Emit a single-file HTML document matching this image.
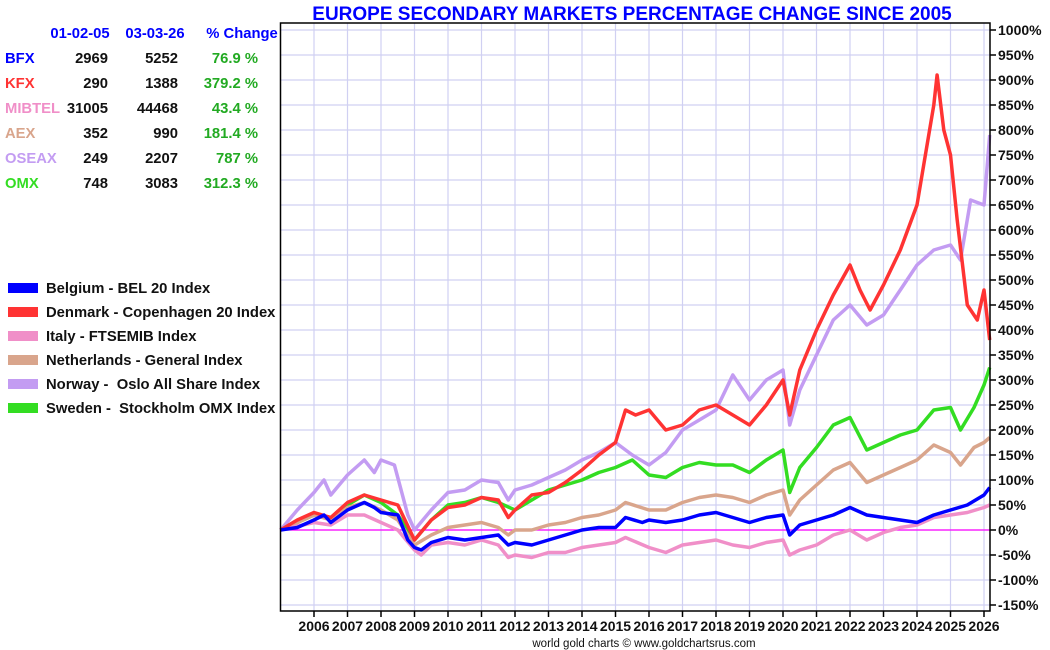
<!DOCTYPE html>
<html><head><meta charset="utf-8">
<style>
body{margin:0;background:#fff;width:1050px;height:650px;overflow:hidden;font-family:"Liberation Sans",sans-serif}
svg{position:absolute;left:0;top:0}
</style></head><body>
<svg id="chart" width="1050" height="650"></svg>
<script>
const startYear=2005, yearTicks=[2006,2007,2008,2009,2010,2011,2012,2013,2014,2015,2016,2017,2018,2019,2020,2021,2022,2023,2024,2025,2026];
const yTicks=[-150,-100,-50,0,50,100,150,200,250,300,350,400,450,500,550,600,650,700,750,800,850,900,950,1000];
const seriesNames=["Norway - Oslo All Share Index","Sweden - Stockholm OMX Index","Netherlands - General Index","Italy - FTSEMIB Index","Denmark - Copenhagen 20 Index","Belgium - BEL 20 Index"];
const norwayT=[2005,2005.5,2006,2006.3,2006.5,2007,2007.5,2007.8,2008,2008.4,2008.8,2009,2009.5,2010,2010.5,2011,2011.5,2011.8,2012,2012.5,2013,2013.5,2014,2014.5,2015,2015.5,2016,2016.5,2017,2017.5,2018,2018.5,2019,2019.5,2020,2020.2,2020.5,2021,2021.5,2022,2022.5,2023,2023.5,2024,2024.5,2025,2025.3,2025.6,2026,2026.17];
const norwayV=[0,40,75,100,70,110,140,115,140,130,30,0,40,75,80,100,95,60,80,90,105,120,140,155,175,150,130,155,200,220,240,310,260,300,320,210,280,350,420,450,410,430,480,530,560,570,540,660,650,790];
const swedenT=[2005,2005.5,2006,2006.5,2007,2007.5,2008,2008.5,2009,2009.5,2010,2010.5,2011,2011.5,2012,2012.5,2013,2013.5,2014,2014.5,2015,2015.5,2016,2016.5,2017,2017.5,2018,2018.5,2019,2019.5,2020,2020.2,2020.5,2021,2021.5,2022,2022.5,2023,2023.5,2024,2024.5,2025,2025.3,2025.7,2026,2026.17];
const swedenV=[0,15,30,25,50,70,55,30,-20,20,50,55,65,55,40,60,80,90,100,115,125,140,110,105,125,135,130,130,115,140,160,75,125,165,210,225,160,175,190,200,240,245,200,245,290,325];
const nethT=[2005,2006,2006.5,2007,2007.5,2008,2008.5,2009,2009.5,2010,2010.5,2011,2011.5,2011.8,2012,2012.5,2013,2013.5,2014,2014.5,2015,2015.3,2016,2016.5,2017,2017.5,2018,2018.5,2019,2019.5,2020,2020.2,2020.5,2021,2021.5,2022,2022.5,2023,2023.5,2024,2024.5,2025,2025.3,2025.7,2026,2026.17];
const nethV=[0,30,20,45,55,40,20,-30,-10,5,10,15,5,-10,0,0,10,15,25,30,40,55,40,40,55,65,70,65,55,70,80,30,60,90,120,135,95,110,125,140,170,155,130,165,175,185];
const italyT=[2005,2006,2006.5,2007,2007.5,2008,2008.5,2009,2009.2,2009.5,2010,2010.5,2011,2011.5,2011.8,2012,2012.5,2013,2013.5,2014,2014.5,2015,2015.3,2016,2016.5,2017,2017.5,2018,2018.5,2019,2019.5,2020,2020.2,2020.5,2021,2021.5,2022,2022.5,2023,2023.5,2024,2024.5,2025,2025.5,2026,2026.17];
const italyV=[0,15,10,30,30,15,0,-40,-50,-30,-25,-30,-20,-30,-55,-50,-55,-45,-45,-35,-30,-25,-15,-35,-45,-30,-25,-20,-30,-35,-25,-20,-50,-40,-30,-10,0,-20,-5,5,10,25,30,35,45,50];
const denmarkT=[2005,2005.5,2006,2006.5,2007,2007.5,2008,2008.5,2009,2009.5,2010,2010.5,2011,2011.5,2011.8,2012,2012.5,2013,2013.5,2014,2014.5,2015,2015.3,2015.6,2016,2016.5,2017,2017.5,2018,2018.5,2019,2019.5,2020,2020.2,2020.5,2021,2021.5,2022,2022.3,2022.6,2023,2023.5,2024,2024.2,2024.5,2024.6,2024.8,2025,2025.2,2025.5,2025.8,2026,2026.17];
const denmarkV=[0,20,35,25,55,70,60,50,-20,20,45,50,65,60,25,40,70,75,95,120,150,175,240,230,240,200,210,240,250,230,210,250,300,230,320,400,470,530,480,440,490,560,650,730,850,910,800,750,620,450,420,480,380];
const belgiumT=[2005,2005.5,2006,2006.3,2006.5,2007,2007.5,2007.8,2008,2008.5,2008.8,2009,2009.2,2009.5,2010,2010.5,2011,2011.5,2011.8,2012,2012.5,2013,2013.5,2014,2014.5,2015,2015.3,2015.8,2016,2016.5,2017,2017.5,2018,2018.5,2019,2019.5,2020,2020.2,2020.5,2021,2021.5,2022,2022.5,2023,2023.5,2024,2024.5,2025,2025.5,2026,2026.17];
const belgiumV=[0,5,20,30,15,40,55,45,35,30,-20,-35,-40,-25,-15,-20,-15,-10,-30,-25,-30,-20,-10,0,5,5,25,15,20,15,20,30,35,25,15,25,30,-10,10,20,30,45,30,25,20,15,30,40,50,70,85];

const NS="http://www.w3.org/2000/svg", svg=document.getElementById('chart');
const L=280.5,R=990,T=23,B=611;
const xs=t=>L+(t-startYear)*33.5, ys=v=>530-v*0.5;
function mk(tag,at,parent){const e=document.createElementNS(NS,tag);for(const k in at)e.setAttribute(k,at[k]);(parent||svg).appendChild(e);return e;}
let e;
yTicks.forEach(v=>{
 e=mk('line',{x1:L,x2:R,y1:ys(v),y2:ys(v),stroke:'#d0d0f2','stroke-width':1.2});
 
 
 e=mk('line',{x1:R,x2:R+6,y1:ys(v),y2:ys(v),stroke:'#000','stroke-width':1.5});
 
 
 e=mk('text',{x:R+8,y:ys(v)+5,'font-size':14,'font-weight':'bold',fill:'#111'});e.textContent=v+'%';
 
 
});
yearTicks.forEach(y=>{
 e=mk('line',{x1:xs(y),x2:xs(y),y1:T,y2:B,stroke:'#d0d0f2','stroke-width':1.2});
 
 
 e=mk('line',{x1:xs(y),x2:xs(y),y1:B,y2:B+6,stroke:'#000','stroke-width':1.5});
 
 
 e=mk('text',{x:xs(y),y:B+20,'font-size':14,'font-weight':'bold',fill:'#111','text-anchor':'middle'});e.textContent=y;
 
 
});
e=mk('line',{x1:L,x2:R,y1:ys(0),y2:ys(0),stroke:'#ff00ff','stroke-width':1.2});


const series=[[norwayT,norwayV,'#c39cf2'],[swedenT,swedenV,'#33dd22'],[nethT,nethV,'#d9a58c'],[italyT,italyV,'#f08fc8'],[denmarkT,denmarkV,'#ff3333'],[belgiumT,belgiumV,'#0000ff']];
series.forEach((s,i)=>{
 const d=s[0].map((t,j)=>(j?'L':'M')+xs(t).toFixed(1)+','+ys(s[1][j]).toFixed(1)).join('');
 e=mk('path',{d:d,fill:'none',stroke:s[2],'stroke-width':3.5,'stroke-linejoin':'round'});
 
 
});
e=mk('rect',{x:L,y:T,width:R-L,height:B-T,fill:'none',stroke:'#000','stroke-width':1.5});


e=mk('text',{x:632,y:20,'font-size':19,'font-weight':'bold',fill:'#0000ff','text-anchor':'middle'});e.textContent='EUROPE SECONDARY MARKETS PERCENTAGE CHANGE SINCE 2005';


e=mk('text',{x:644,y:647,'font-size':11.5,fill:'#111','text-anchor':'middle'});e.textContent='world gold charts © www.goldchartsrus.com';



const heads=[['01-02-05',80],['03-03-26',155],['% Change',242]];
heads.forEach(h=>{e=mk('text',{x:h[1],y:38,'font-size':14.8,'font-weight':'bold',fill:'#0000ff','text-anchor':'middle'});e.textContent=h[0];
 
 });
const rows=[['BFX','2969','5252','76.9 %','#0000ff'],['KFX','290','1388','379.2 %','#ff3333'],['MIBTEL','31005','44468','43.4 %','#f08fc8'],['AEX','352','990','181.4 %','#d9a58c'],['OSEAX','249','2207','787 %','#c39cf2'],['OMX','748','3083','312.3 %','#33dd22']];
rows.forEach((r,i)=>{const y=63+i*25;
 e=mk('text',{x:5,y:y,'font-size':14.8,'font-weight':'bold',fill:r[4]});e.textContent=r[0];
 
 
 e=mk('text',{x:108,y:y,'font-size':14.8,'font-weight':'bold',fill:'#111','text-anchor':'end'});e.textContent=r[1];
 
 
 e=mk('text',{x:178,y:y,'font-size':14.8,'font-weight':'bold',fill:'#111','text-anchor':'end'});e.textContent=r[2];
 
 
 e=mk('text',{x:258,y:y,'font-size':14.8,'font-weight':'bold',fill:'#22aa22','text-anchor':'end'});e.textContent=r[3];
 
 
});
const leg=[['Belgium - BEL 20 Index','#0000ff'],['Denmark - Copenhagen 20 Index','#ff3333'],['Italy - FTSEMIB Index','#f08fc8'],['Netherlands - General Index','#d9a58c'],['Norway -  Oslo All Share Index','#c39cf2'],['Sweden -  Stockholm OMX Index','#33dd22']];
leg.forEach((l,i)=>{const y=288+i*24;
 e=mk('rect',{x:8,y:y-5,width:30,height:10,fill:l[1]});
 
 
 e=mk('text',{x:46,y:y+5,'font-size':14.8,'font-weight':'bold',fill:'#111'});e.textContent=l[0];e.style.whiteSpace='pre';
 
 
});
</script>
</body></html>
